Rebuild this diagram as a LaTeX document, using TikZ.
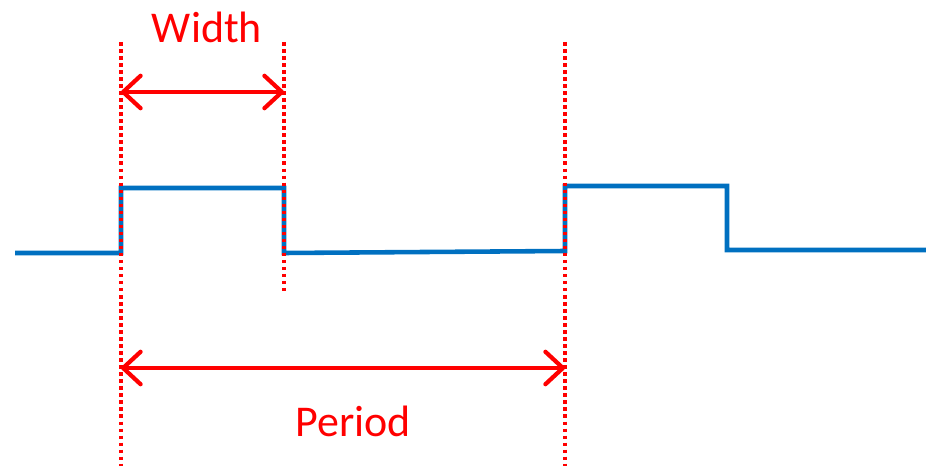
\documentclass[tikz,border=0pt]{standalone}
\usepackage{fontspec}
\setmainfont{Carlito}
\usetikzlibrary{arrows.meta}
\definecolor{sigblue}{RGB}{0,112,192}
\begin{document}
\begin{tikzpicture}[x=0.02cm, y=-0.02cm,
    signal/.style ={draw=sigblue, line width=2.6pt},
    marker/.style ={draw=red, line width=2.2pt, dash pattern=on 2pt off 2pt},
    span/.style ={red, line width=2.4pt, {Straight Barb[round,length=3.5mm,width=6.5mm]}-{Straight Barb[round,length=3.5mm,width=6.5mm]}},
    label/.style ={text=red, font=\fontsize{25}{30}\selectfont, inner sep=0pt}]
   \useasboundingbox (0,0) rectangle (926,466);
   % pulse train
   \coordinate (s0) at (15,253);
   \coordinate (r1) at (121,253);
   \coordinate (h1) at (121,188);
   \coordinate (h2) at (284,188);
   \coordinate (f1) at (284,253);
   \coordinate (r2) at (565,251);
   \coordinate (h3) at (565,186);
   \coordinate (h4) at (727,186);
   \coordinate (f2) at (727,250);
   \coordinate (s1) at (926,250);
   \draw[signal, line join=miter] (s0) -- (r1) -- (h1) -- (h2) -- (f1) -- (r2) -- (h3) -- (h4) -- (f2) -- (s1);
   % edge markers
   \coordinate (A0) at (121,42);
   \coordinate (A1) at (121,466);
   \coordinate (B0) at (284,42);
   \coordinate (B1) at (284,295);
   \coordinate (C0) at (565,42);
   \coordinate (C1) at (565,466);
   \draw[marker] (A0) -- (A1);
   \draw[marker] (B0) -- (B1);
   \draw[marker] (C0) -- (C1);
   % dimensions
   \coordinate (wL) at (121,92);
   \coordinate (wR) at (284,92);
   \coordinate (pL) at (121,368);
   \coordinate (pR) at (565,368);
   \draw[span] (wL) -- (wR);
   \draw[span] (pL) -- (pR);
   \node[label] (width)  at (207,27)  {Width};
   \node[label] (period) at (353,421) {Period};
 \end{tikzpicture}
\end{document}
